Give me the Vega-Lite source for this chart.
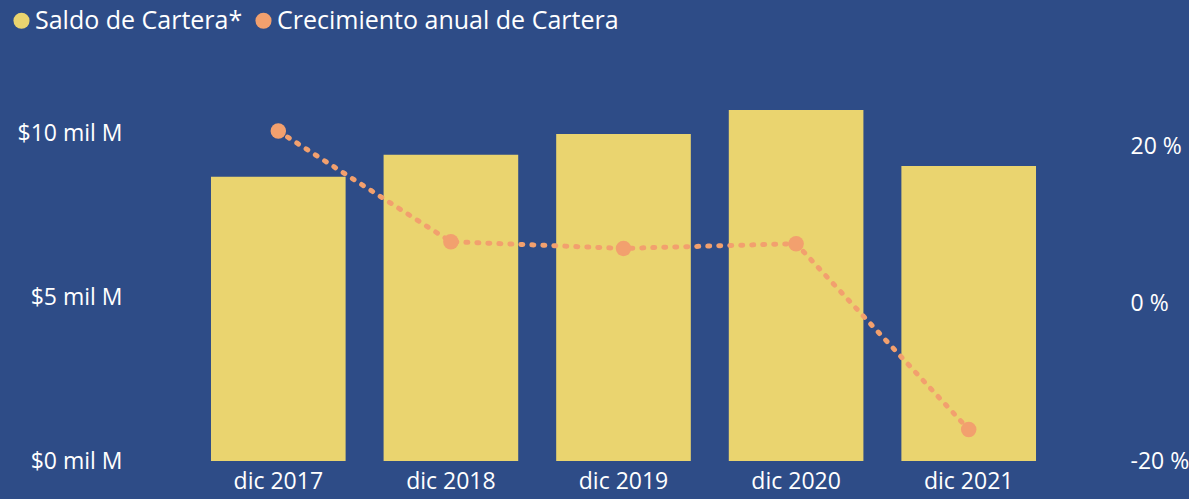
{
  "$schema": "https://vega.github.io/schema/vega-lite/v6.json",
  "autosize": {"type": "none"},
  "width": 863,
  "height": 400,
  "padding": {"left": 192, "top": 61, "right": 134, "bottom": 38},
  "background": "#2E4C87",
  "config": {
    "view": {"stroke": null},
    "font": "Open Sans",
    "axis": {"labelColor": "#FFFFFF", "labelFont": "Open Sans", "labelFontSize": 23, "grid": false, "domain": false, "ticks": false, "title": null},
    "legend": {"labelColor": "#FFFFFF", "labelFont": "Open Sans", "labelFontSize": 25, "labelLimit": 0}
  },
  "data": {
    "values": [
      {"periodo": "dic 2017", "saldo": 8.69, "crecimiento": 21.9},
      {"periodo": "dic 2018", "saldo": 9.36, "crecimiento": 7.85},
      {"periodo": "dic 2019", "saldo": 10.0, "crecimiento": 7.0},
      {"periodo": "dic 2020", "saldo": 10.73, "crecimiento": 7.6},
      {"periodo": "dic 2021", "saldo": 9.02, "crecimiento": -16.0}
    ]
  },
  "encoding": {
    "x": {
      "field": "periodo",
      "type": "nominal",
      "sort": null,
      "scale": {"paddingInner": 0.22, "paddingOuter": 0.11},
      "axis": {"labelAngle": 0, "labelPadding": 9}
    }
  },
  "layer": [
    {
      "mark": {"type": "bar"},
      "encoding": {
        "y": {
          "field": "saldo",
          "type": "quantitative",
          "scale": {"domain": [0, 12.23], "nice": false},
          "axis": {"values": [0, 5, 10], "labelExpr": "'$' + datum.value + ' mil M'", "labelPadding": 70, "orient": "left"}
        },
        "color": {
          "datum": "Saldo de Cartera*",
          "type": "nominal",
          "scale": {"domain": ["Saldo de Cartera*", "Crecimiento anual de Cartera"], "range": ["#EAD46F", "#F2A06E"]},
          "legend": {
            "title": null,
            "orient": "none",
            "legendX": -183,
            "legendY": -53,
            "direction": "horizontal",
            "symbolType": "circle",
            "symbolSize": 260,
            "symbolStrokeWidth": 0,
            "labelOffset": 1,
            "columnPadding": 8
          }
        }
      }
    },
    {
      "mark": {"type": "line", "color": "#F2A06E", "strokeWidth": 5, "strokeDash": [2, 9], "strokeCap": "round"},
      "encoding": {
        "y": {
          "field": "crecimiento",
          "type": "quantitative",
          "scale": {"domain": [-20, 30.8], "nice": false, "zero": false},
          "axis": {"values": [-20, 0, 20], "labelExpr": "datum.value + ' %'", "labelPadding": 75, "orient": "right", "labelAlign": "left"}
        }
      }
    },
    {
      "mark": {"type": "point", "filled": true, "opacity": 1, "size": 240},
      "encoding": {
        "y": {"field": "crecimiento", "type": "quantitative", "scale": {"domain": [-20, 30.8], "nice": false, "zero": false}, "axis": null},
        "color": {"datum": "Crecimiento anual de Cartera", "type": "nominal"}
      }
    }
  ],
  "resolve": {"scale": {"y": "independent"}}
}
